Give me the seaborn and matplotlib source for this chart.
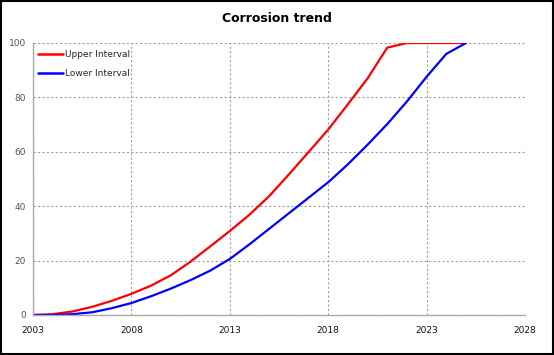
import pandas as pd
import numpy as np
import matplotlib.pyplot as plt
import seaborn as sns

# Dados
years = list(range(2003, 2026))
upper = [0, 0.3, 1.3, 3.0, 5.2, 7.8, 10.8, 14.6, 19.6, 25.2, 30.9, 36.9, 43.7,
         51.7, 59.9, 68.2, 77.5, 87.0, 98.3, 100, 100, 100, 100]
lower = [0, 0, 0.3, 1.0, 2.5, 4.4, 6.9, 9.7, 12.8, 16.3, 20.6, 26.0, 31.7,
         37.4, 43.1, 48.8, 55.4, 62.6, 70.2, 78.5, 87.6, 96.0, 100]
series_names = ['Upper Interval', 'Lower Interval']
x_ticks = [2003, 2008, 2013, 2018, 2023, 2028]
y_ticks = [0, 20, 40, 60, 80, 100]

df = pd.DataFrame({
    'year': years * 2,
    'value': upper + lower,
    'series': [series_names[0]] * len(years) + [series_names[1]] * len(years),
})

sns.set_style('white')
plt.rcParams['font.family'] = ['DejaVu Sans']

fig = plt.figure(figsize=(5.54, 3.55), dpi=100)
ax = fig.add_axes([33 / 554, 1 - 315 / 355, 492 / 554, 272 / 355])

sns.lineplot(data=df, x='year', y='value', hue='series',
             palette={series_names[0]: '#ff0000', series_names[1]: '#0000ff'},
             linewidth=1.6, ax=ax)

ax.set_xlim(2003, 2028)
ax.set_ylim(0, 100)
ax.set_xticks(x_ticks)
ax.set_yticks(y_ticks)
ax.set_xticklabels([str(t) for t in x_ticks], fontsize=6.5, color='#111111')
ax.set_yticklabels([str(t) for t in y_ticks], fontsize=6.5, color='#555555')
ax.tick_params(axis='both', length=0)
ax.tick_params(axis='x', pad=8)
ax.tick_params(axis='y', pad=5)
ax.set_xlabel('')
ax.set_ylabel('')

ax.grid(True, color='#a0a0a0', linestyle=(0, (2, 2)), linewidth=0.8)
for side in ['top', 'right']:
    ax.spines[side].set_visible(False)
for side in ['left', 'bottom']:
    ax.spines[side].set_color('#aaaaaa')
    ax.spines[side].set_linewidth(1.0)
ax.set_axisbelow(True)

leg = ax.legend(loc='upper left', frameon=False, fontsize=6.5,
                handlelength=2.8, handletextpad=0.2, labelspacing=1.05,
                borderaxespad=0.1, bbox_to_anchor=(0.0, 0.99))
for line in leg.get_lines():
    line.set_linewidth(1.8)

fig.suptitle('Corrosion trend', x=0.5, y=0.965, fontsize=9, fontweight='bold',
             color='black')

# moldura externa
fig.patches.append(plt.Rectangle((0.002, 0.003), 0.996, 0.994, transform=fig.transFigure,
                                 fill=False, edgecolor='black', linewidth=1.5))

plt.savefig('out.png', dpi=100)
